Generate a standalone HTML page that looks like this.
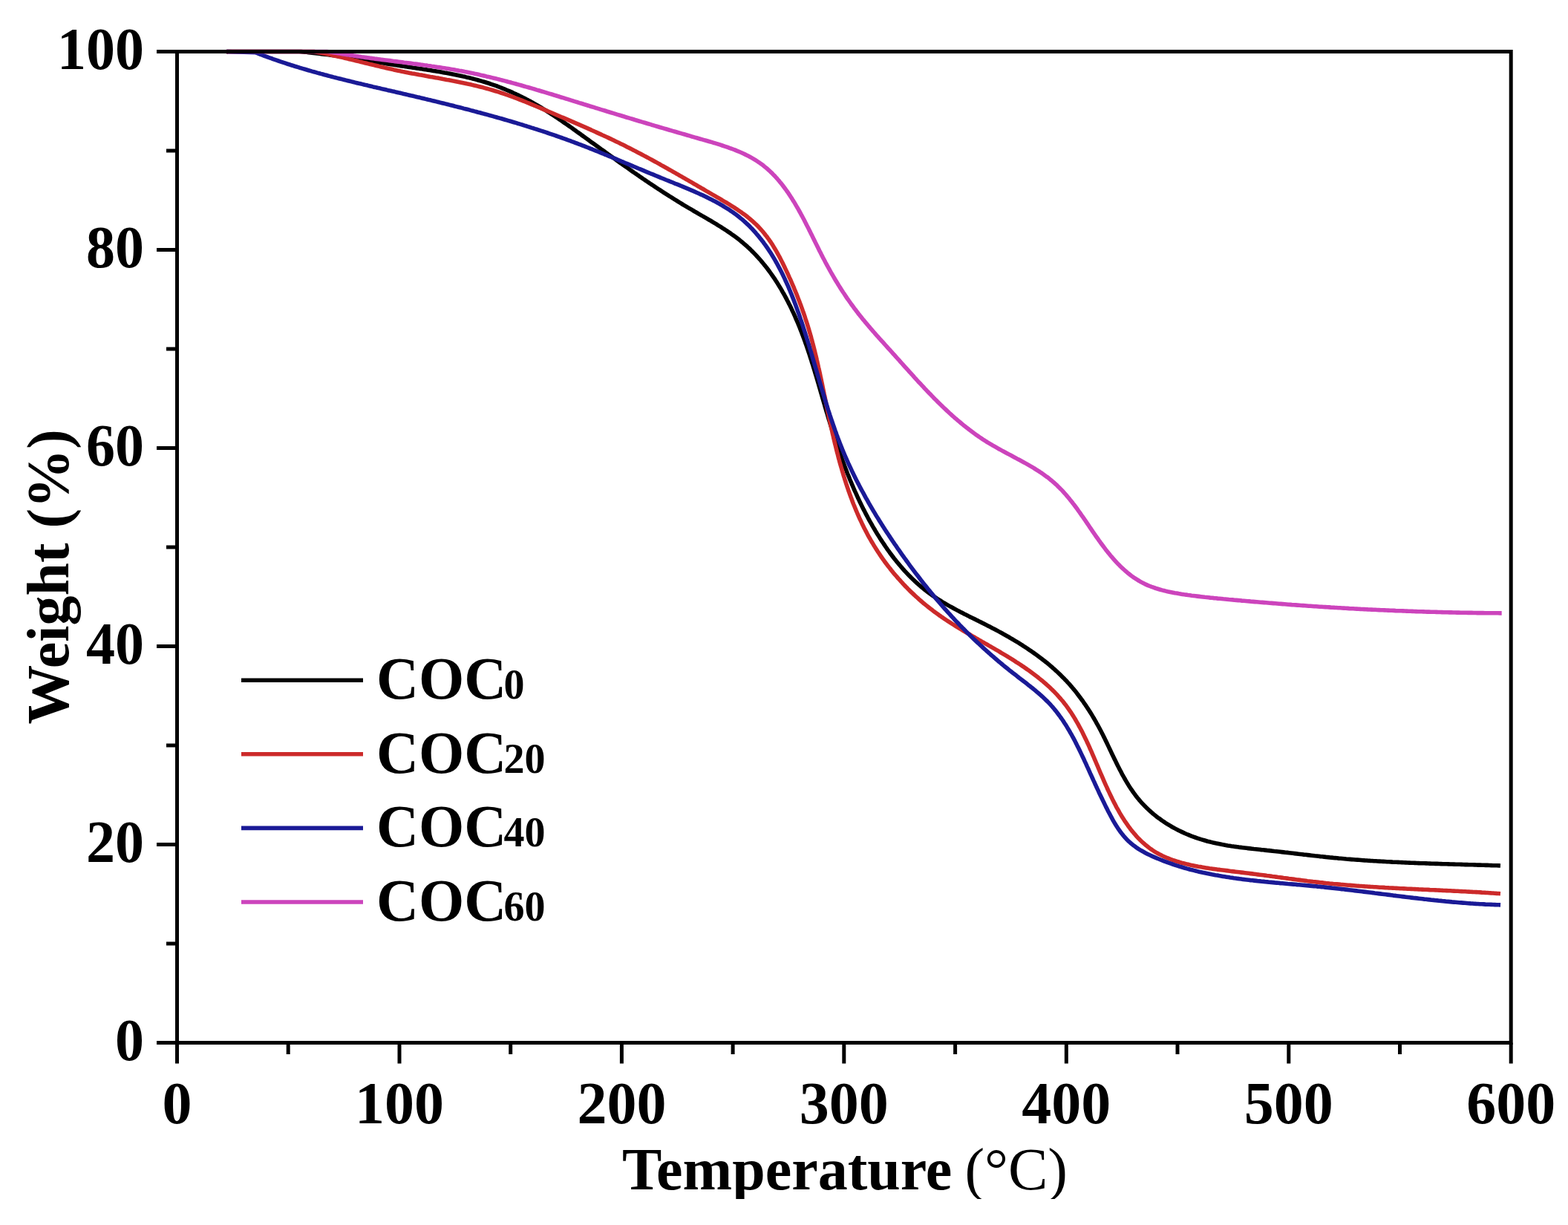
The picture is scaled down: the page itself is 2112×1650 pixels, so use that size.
<!DOCTYPE html>
<html><head><meta charset="utf-8"><title>TGA curves</title>
<style>
html,body{margin:0;padding:0;background:#fff;}
body{width:2112px;height:1650px;overflow:hidden;position:relative;}
#clip{position:absolute;left:0;top:0;width:2112px;height:1615px;overflow:hidden;}
svg{display:block;}
text{font-family:"Liberation Serif","Times New Roman",serif;font-weight:bold;font-size:80px;fill:#000;}
</style></head><body>
<div id="clip">
<svg width="2112" height="1650" viewBox="0 0 2112 1650">
<g fill="none" stroke-linejoin="round" stroke-linecap="butt" stroke-width="5.6">
<path d="M304.9 69.7 L307.5 69.5 L310.1 69.5 L312.6 69.5 L315.2 69.5 L317.7 69.5 L320.3 69.5 L322.8 69.5 L325.3 69.5 L327.9 69.5 L330.4 69.5 L332.9 69.5 L335.5 69.5 L338.0 69.5 L340.5 69.5 L343.0 69.5 L345.6 69.5 L348.1 69.5 L350.6 69.5 L353.1 69.5 L355.6 69.5 L358.1 69.5 L360.6 69.5 L363.1 69.5 L365.6 69.5 L368.1 69.5 L370.6 69.5 L373.1 69.5 L375.6 69.5 L378.1 69.5 L380.6 69.5 L383.1 69.5 L385.6 69.5 L388.1 69.5 L390.6 69.5 L393.1 69.5 L395.5 69.5 L398.0 69.5 L400.5 69.5 L403.0 69.5 L405.5 69.6 L407.9 69.9 L410.4 70.1 L412.9 70.3 L415.4 70.6 L417.8 70.9 L420.3 71.1 L422.8 71.4 L425.3 71.7 L427.7 72.0 L430.2 72.3 L432.7 72.6 L435.1 72.9 L437.6 73.2 L440.1 73.5 L442.5 73.8 L445.0 74.2 L447.5 74.5 L449.9 74.8 L452.4 75.2 L454.9 75.5 L457.3 75.9 L459.8 76.2 L462.3 76.6 L464.7 77.0 L467.2 77.3 L469.7 77.7 L472.1 78.1 L474.6 78.5 L477.1 78.8 L479.5 79.2 L482.0 79.6 L484.5 80.0 L486.9 80.4 L489.4 80.8 L491.9 81.2 L494.3 81.6 L496.8 81.9 L499.3 82.3 L501.7 82.7 L504.2 83.1 L506.7 83.5 L509.2 83.9 L511.6 84.3 L514.1 84.7 L516.6 85.1 L519.1 85.5 L521.5 85.9 L524.0 86.3 L526.5 86.7 L529.0 87.0 L531.5 87.4 L533.9 87.8 L536.4 88.2 L538.9 88.6 L541.4 88.9 L543.9 89.3 L546.4 89.7 L548.9 90.1 L551.4 90.4 L553.9 90.8 L556.4 91.2 L558.8 91.5 L561.3 91.9 L563.8 92.3 L566.3 92.6 L568.8 93.0 L571.3 93.4 L573.8 93.8 L576.3 94.2 L578.8 94.6 L581.3 95.0 L583.7 95.4 L586.2 95.8 L588.7 96.2 L591.2 96.6 L593.7 97.0 L596.1 97.4 L598.6 97.9 L601.1 98.3 L603.5 98.8 L606.0 99.2 L608.5 99.7 L610.9 100.2 L613.4 100.7 L615.8 101.2 L618.3 101.7 L620.7 102.2 L623.2 102.8 L625.6 103.3 L628.0 103.9 L630.5 104.4 L632.9 105.0 L635.3 105.6 L637.7 106.3 L640.1 106.9 L642.5 107.5 L644.9 108.2 L647.3 108.9 L649.7 109.6 L652.1 110.3 L654.5 111.0 L656.8 111.7 L659.2 112.5 L661.5 113.3 L663.9 114.1 L666.2 114.9 L668.6 115.7 L670.9 116.6 L673.2 117.5 L675.5 118.4 L677.8 119.3 L680.1 120.2 L682.4 121.2 L684.7 122.2 L687.0 123.1 L689.3 124.1 L691.5 125.2 L693.8 126.2 L696.0 127.3 L698.3 128.3 L700.5 129.4 L702.7 130.5 L705.0 131.7 L707.2 132.8 L709.4 134.0 L711.6 135.1 L713.8 136.3 L716.0 137.5 L718.1 138.7 L720.3 140.0 L722.5 141.2 L724.7 142.5 L726.8 143.7 L729.0 145.0 L731.1 146.3 L733.2 147.6 L735.4 148.9 L737.5 150.3 L739.6 151.6 L741.7 153.0 L743.8 154.3 L745.9 155.7 L748.0 157.1 L750.1 158.5 L752.2 159.9 L754.3 161.3 L756.3 162.7 L758.4 164.1 L760.5 165.6 L762.5 167.0 L764.6 168.4 L766.7 169.9 L768.7 171.3 L770.8 172.8 L772.8 174.3 L774.9 175.7 L776.9 177.2 L778.9 178.6 L781.0 180.1 L783.0 181.6 L785.1 183.1 L787.1 184.5 L789.1 186.0 L791.2 187.5 L793.2 188.9 L795.2 190.4 L797.2 191.9 L799.3 193.3 L801.3 194.8 L803.3 196.3 L805.4 197.7 L807.4 199.2 L809.4 200.7 L811.4 202.1 L813.5 203.6 L815.5 205.1 L817.5 206.5 L819.5 208.0 L821.6 209.4 L823.6 210.9 L825.6 212.3 L827.7 213.8 L829.7 215.2 L831.7 216.7 L833.7 218.1 L835.8 219.6 L837.8 221.0 L839.8 222.5 L841.9 223.9 L843.9 225.3 L846.0 226.8 L848.0 228.2 L850.0 229.6 L852.1 231.1 L854.1 232.5 L856.2 233.9 L858.2 235.3 L860.3 236.7 L862.3 238.2 L864.4 239.6 L866.4 241.0 L868.5 242.4 L870.6 243.8 L872.6 245.2 L874.7 246.6 L876.8 248.0 L878.9 249.3 L880.9 250.7 L883.0 252.1 L885.1 253.5 L887.2 254.9 L889.3 256.2 L891.4 257.6 L893.5 259.0 L895.6 260.3 L897.7 261.7 L899.8 263.0 L901.9 264.4 L904.1 265.7 L906.2 267.0 L908.3 268.4 L910.4 269.7 L912.6 271.0 L914.7 272.3 L916.9 273.7 L919.0 275.0 L921.2 276.3 L923.4 277.6 L925.5 278.9 L927.7 280.2 L929.9 281.4 L932.1 282.7 L934.2 284.0 L936.4 285.3 L938.6 286.5 L940.8 287.8 L943.0 289.1 L945.2 290.4 L947.4 291.6 L949.6 292.9 L951.8 294.2 L954.0 295.5 L956.2 296.7 L958.4 298.0 L960.5 299.3 L962.7 300.6 L964.9 301.9 L967.0 303.3 L969.2 304.6 L971.3 305.9 L973.4 307.3 L975.5 308.6 L977.6 310.0 L979.7 311.4 L981.8 312.8 L983.9 314.2 L985.9 315.7 L987.9 317.1 L989.9 318.6 L991.9 320.1 L993.9 321.6 L995.9 323.1 L997.8 324.7 L999.7 326.2 L1001.6 327.8 L1003.5 329.5 L1005.4 331.1 L1007.2 332.8 L1009.0 334.4 L1010.8 336.1 L1012.5 337.9 L1014.3 339.6 L1016.0 341.4 L1017.7 343.2 L1019.4 345.0 L1021.1 346.8 L1022.7 348.6 L1024.4 350.5 L1026.0 352.4 L1027.5 354.3 L1029.1 356.2 L1030.7 358.1 L1032.2 360.1 L1033.7 362.0 L1035.2 364.0 L1036.7 366.0 L1038.1 368.0 L1039.6 370.1 L1041.0 372.1 L1042.4 374.2 L1043.8 376.2 L1045.1 378.3 L1046.5 380.4 L1047.8 382.5 L1049.1 384.7 L1050.4 386.8 L1051.7 388.9 L1053.0 391.1 L1054.2 393.3 L1055.5 395.5 L1056.7 397.6 L1057.9 399.8 L1059.1 402.1 L1060.2 404.3 L1061.4 406.5 L1062.5 408.8 L1063.7 411.0 L1064.8 413.3 L1065.9 415.5 L1066.9 417.8 L1068.0 420.1 L1069.1 422.4 L1070.1 424.7 L1071.1 426.9 L1072.1 429.3 L1073.1 431.6 L1074.1 433.9 L1075.1 436.2 L1076.0 438.5 L1077.0 440.8 L1077.9 443.2 L1078.8 445.5 L1079.7 447.8 L1080.6 450.2 L1081.5 452.5 L1082.4 454.9 L1083.2 457.2 L1084.1 459.6 L1084.9 461.9 L1085.8 464.3 L1086.6 466.7 L1087.4 469.0 L1088.2 471.4 L1089.0 473.8 L1089.8 476.2 L1090.6 478.5 L1091.3 480.9 L1092.1 483.3 L1092.9 485.7 L1093.6 488.1 L1094.4 490.5 L1095.1 492.8 L1095.8 495.2 L1096.6 497.6 L1097.3 500.0 L1098.0 502.4 L1098.7 504.8 L1099.5 507.2 L1100.2 509.6 L1100.9 512.0 L1101.6 514.4 L1102.3 516.8 L1103.0 519.2 L1103.7 521.6 L1104.4 524.0 L1105.1 526.5 L1105.8 528.9 L1106.5 531.3 L1107.2 533.7 L1107.9 536.1 L1108.6 538.5 L1109.3 540.9 L1110.0 543.3 L1110.7 545.7 L1111.4 548.1 L1112.1 550.5 L1112.8 552.9 L1113.5 555.3 L1114.3 557.7 L1115.0 560.2 L1115.7 562.6 L1116.4 565.0 L1117.2 567.4 L1117.9 569.8 L1118.6 572.2 L1119.4 574.6 L1120.2 577.0 L1120.9 579.4 L1121.7 581.7 L1122.4 584.1 L1123.2 586.5 L1124.0 588.9 L1124.8 591.3 L1125.6 593.7 L1126.4 596.1 L1127.2 598.5 L1128.0 600.8 L1128.8 603.2 L1129.6 605.6 L1130.4 607.9 L1131.3 610.3 L1132.1 612.7 L1133.0 615.0 L1133.8 617.4 L1134.7 619.8 L1135.5 622.1 L1136.4 624.5 L1137.3 626.8 L1138.2 629.2 L1139.1 631.5 L1140.0 633.8 L1140.9 636.2 L1141.8 638.5 L1142.8 640.8 L1143.7 643.1 L1144.6 645.5 L1145.6 647.8 L1146.6 650.1 L1147.5 652.4 L1148.5 654.7 L1149.5 657.0 L1150.5 659.3 L1151.5 661.6 L1152.6 663.9 L1153.6 666.1 L1154.6 668.4 L1155.7 670.7 L1156.7 672.9 L1157.8 675.2 L1158.9 677.5 L1160.0 679.7 L1161.1 681.9 L1162.2 684.2 L1163.3 686.4 L1164.5 688.6 L1165.6 690.9 L1166.8 693.1 L1168.0 695.3 L1169.1 697.5 L1170.3 699.7 L1171.5 701.9 L1172.8 704.1 L1174.0 706.2 L1175.2 708.4 L1176.5 710.6 L1177.8 712.7 L1179.0 714.9 L1180.3 717.0 L1181.6 719.2 L1183.0 721.3 L1184.3 723.4 L1185.6 725.5 L1187.0 727.6 L1188.4 729.7 L1189.8 731.8 L1191.2 733.9 L1192.6 736.0 L1194.0 738.0 L1195.4 740.1 L1196.9 742.1 L1198.4 744.2 L1199.9 746.2 L1201.4 748.2 L1202.9 750.2 L1204.4 752.2 L1206.0 754.1 L1207.5 756.1 L1209.1 758.0 L1210.7 759.9 L1212.3 761.8 L1213.9 763.7 L1215.6 765.6 L1217.2 767.5 L1218.9 769.3 L1220.6 771.1 L1222.3 773.0 L1224.0 774.7 L1225.8 776.5 L1227.5 778.3 L1229.3 780.0 L1231.1 781.7 L1232.9 783.4 L1234.8 785.1 L1236.6 786.8 L1238.5 788.4 L1240.4 790.0 L1242.3 791.6 L1244.2 793.2 L1246.1 794.7 L1248.1 796.2 L1250.0 797.7 L1252.0 799.2 L1254.1 800.7 L1256.1 802.1 L1258.1 803.5 L1260.2 804.9 L1262.3 806.3 L1264.4 807.6 L1266.5 808.9 L1268.6 810.3 L1270.7 811.6 L1272.9 812.8 L1275.0 814.1 L1277.2 815.4 L1279.4 816.6 L1281.6 817.8 L1283.8 819.0 L1286.0 820.2 L1288.2 821.4 L1290.4 822.6 L1292.6 823.7 L1294.8 824.9 L1297.1 826.0 L1299.3 827.2 L1301.6 828.3 L1303.8 829.4 L1306.0 830.6 L1308.3 831.7 L1310.5 832.8 L1312.8 833.9 L1315.0 835.0 L1317.3 836.1 L1319.5 837.3 L1321.8 838.4 L1324.0 839.5 L1326.3 840.6 L1328.5 841.8 L1330.7 842.9 L1333.0 844.1 L1335.2 845.2 L1337.5 846.4 L1339.7 847.5 L1341.9 848.7 L1344.1 849.9 L1346.3 851.1 L1348.5 852.3 L1350.7 853.5 L1352.9 854.8 L1355.1 856.0 L1357.3 857.2 L1359.5 858.5 L1361.7 859.8 L1363.8 861.0 L1366.0 862.3 L1368.1 863.6 L1370.3 864.9 L1372.4 866.2 L1374.6 867.6 L1376.7 868.9 L1378.8 870.3 L1380.9 871.6 L1383.0 873.0 L1385.0 874.4 L1387.1 875.8 L1389.2 877.2 L1391.2 878.6 L1393.3 880.1 L1395.3 881.5 L1397.3 883.0 L1399.3 884.5 L1401.3 886.0 L1403.3 887.5 L1405.2 889.0 L1407.2 890.5 L1409.1 892.1 L1411.1 893.6 L1413.0 895.2 L1414.9 896.8 L1416.7 898.4 L1418.6 900.1 L1420.5 901.7 L1422.3 903.4 L1424.1 905.0 L1425.9 906.7 L1427.7 908.4 L1429.5 910.2 L1431.2 911.9 L1433.0 913.7 L1434.7 915.5 L1436.4 917.2 L1438.1 919.1 L1439.8 920.9 L1441.4 922.7 L1443.0 924.6 L1444.6 926.5 L1446.2 928.4 L1447.8 930.3 L1449.4 932.3 L1450.9 934.2 L1452.4 936.2 L1453.9 938.2 L1455.4 940.2 L1456.9 942.2 L1458.4 944.2 L1459.8 946.3 L1461.2 948.3 L1462.6 950.4 L1464.0 952.5 L1465.4 954.6 L1466.8 956.7 L1468.1 958.8 L1469.5 961.0 L1470.8 963.1 L1472.1 965.3 L1473.4 967.5 L1474.6 969.6 L1475.9 971.8 L1477.1 974.1 L1478.4 976.3 L1479.6 978.5 L1480.8 980.8 L1482.0 983.0 L1483.2 985.3 L1484.3 987.5 L1485.5 989.8 L1486.6 992.1 L1487.8 994.4 L1488.9 996.7 L1490.0 999.0 L1491.1 1001.3 L1492.2 1003.6 L1493.3 1005.9 L1494.4 1008.2 L1495.5 1010.5 L1496.6 1012.9 L1497.7 1015.2 L1498.8 1017.5 L1499.9 1019.8 L1501.0 1022.1 L1502.2 1024.4 L1503.3 1026.7 L1504.4 1028.9 L1505.5 1031.2 L1506.7 1033.5 L1507.8 1035.7 L1509.0 1038.0 L1510.2 1040.2 L1511.3 1042.4 L1512.5 1044.7 L1513.8 1046.9 L1515.0 1049.0 L1516.2 1051.2 L1517.5 1053.4 L1518.8 1055.5 L1520.1 1057.6 L1521.4 1059.7 L1522.8 1061.8 L1524.2 1063.8 L1525.6 1065.9 L1527.0 1067.9 L1528.5 1069.9 L1529.9 1071.8 L1531.4 1073.8 L1533.0 1075.7 L1534.6 1077.6 L1536.2 1079.5 L1537.8 1081.3 L1539.5 1083.1 L1541.2 1084.9 L1542.9 1086.6 L1544.6 1088.4 L1546.4 1090.0 L1548.2 1091.7 L1550.1 1093.4 L1551.9 1095.0 L1553.8 1096.6 L1555.7 1098.1 L1557.6 1099.7 L1559.6 1101.2 L1561.6 1102.6 L1563.6 1104.1 L1565.6 1105.5 L1567.7 1106.9 L1569.7 1108.3 L1571.8 1109.6 L1573.9 1110.9 L1576.1 1112.2 L1578.2 1113.5 L1580.4 1114.7 L1582.6 1115.9 L1584.8 1117.1 L1587.0 1118.2 L1589.2 1119.3 L1591.5 1120.4 L1593.7 1121.4 L1596.0 1122.5 L1598.3 1123.5 L1600.6 1124.4 L1602.9 1125.4 L1605.3 1126.3 L1607.6 1127.2 L1610.0 1128.0 L1612.3 1128.8 L1614.7 1129.6 L1617.1 1130.4 L1619.5 1131.1 L1621.9 1131.8 L1624.3 1132.5 L1626.7 1133.2 L1629.1 1133.8 L1631.6 1134.4 L1634.0 1135.0 L1636.5 1135.5 L1638.9 1136.1 L1641.4 1136.6 L1643.8 1137.1 L1646.3 1137.6 L1648.8 1138.0 L1651.3 1138.4 L1653.8 1138.9 L1656.3 1139.3 L1658.8 1139.7 L1661.3 1140.0 L1663.8 1140.4 L1666.3 1140.7 L1668.8 1141.1 L1671.3 1141.4 L1673.8 1141.7 L1676.3 1142.0 L1678.8 1142.3 L1681.3 1142.6 L1683.9 1142.9 L1686.4 1143.2 L1688.9 1143.5 L1691.4 1143.7 L1693.9 1144.0 L1696.5 1144.3 L1699.0 1144.6 L1701.5 1144.8 L1704.0 1145.1 L1706.5 1145.4 L1709.0 1145.6 L1711.5 1145.9 L1714.0 1146.2 L1716.5 1146.5 L1719.0 1146.7 L1721.5 1147.0 L1724.0 1147.3 L1726.5 1147.6 L1729.0 1147.9 L1731.5 1148.2 L1734.0 1148.4 L1736.4 1148.7 L1738.9 1149.0 L1741.4 1149.3 L1743.9 1149.6 L1746.4 1149.9 L1748.8 1150.2 L1751.3 1150.5 L1753.8 1150.8 L1756.3 1151.1 L1758.8 1151.3 L1761.2 1151.6 L1763.7 1151.9 L1766.2 1152.2 L1768.6 1152.5 L1771.1 1152.8 L1773.6 1153.0 L1776.1 1153.3 L1778.5 1153.6 L1781.0 1153.8 L1783.5 1154.1 L1786.0 1154.4 L1788.4 1154.6 L1790.9 1154.9 L1793.4 1155.1 L1795.9 1155.4 L1798.4 1155.6 L1800.8 1155.8 L1803.3 1156.1 L1805.8 1156.3 L1808.3 1156.5 L1810.8 1156.7 L1813.3 1157.0 L1815.8 1157.2 L1818.2 1157.4 L1820.7 1157.6 L1823.2 1157.8 L1825.7 1158.0 L1828.2 1158.1 L1830.7 1158.3 L1833.2 1158.5 L1835.7 1158.7 L1838.2 1158.9 L1840.7 1159.0 L1843.2 1159.2 L1845.7 1159.4 L1848.2 1159.5 L1850.7 1159.7 L1853.2 1159.8 L1855.7 1160.0 L1858.2 1160.1 L1860.7 1160.3 L1863.2 1160.4 L1865.7 1160.5 L1868.2 1160.7 L1870.7 1160.8 L1873.2 1160.9 L1875.7 1161.1 L1878.2 1161.2 L1880.7 1161.3 L1883.2 1161.4 L1885.8 1161.5 L1888.3 1161.6 L1890.8 1161.8 L1893.3 1161.9 L1895.8 1162.0 L1898.3 1162.1 L1900.8 1162.2 L1903.3 1162.3 L1905.8 1162.4 L1908.3 1162.5 L1910.8 1162.6 L1913.4 1162.7 L1915.9 1162.8 L1918.4 1162.8 L1920.9 1162.9 L1923.4 1163.0 L1925.9 1163.1 L1928.4 1163.2 L1930.9 1163.3 L1933.4 1163.4 L1935.9 1163.4 L1938.5 1163.5 L1941.0 1163.6 L1943.5 1163.7 L1946.0 1163.7 L1948.5 1163.8 L1951.0 1163.9 L1953.5 1164.0 L1956.0 1164.0 L1958.5 1164.1 L1961.0 1164.2 L1963.5 1164.3 L1966.0 1164.3 L1968.5 1164.4 L1971.0 1164.5 L1973.5 1164.6 L1976.1 1164.6 L1978.6 1164.7 L1981.1 1164.8 L1983.6 1164.8 L1986.1 1164.9 L1988.6 1165.0 L1991.1 1165.1 L1993.6 1165.1 L1996.1 1165.2 L1998.6 1165.3 L2001.0 1165.4 L2003.5 1165.4 L2006.0 1165.5 L2008.5 1165.6 L2011.0 1165.7 L2013.5 1165.7 L2016.0 1165.8 L2018.5 1165.9 L2021.0 1166.0" stroke="#000000"/>
<path d="M305.0 69.6 L307.6 69.5 L310.2 69.5 L312.8 69.5 L315.4 69.5 L317.9 69.5 L320.5 69.5 L323.1 69.5 L325.7 69.5 L328.2 69.5 L330.8 69.5 L333.4 69.5 L335.9 69.5 L338.5 69.5 L341.0 69.5 L343.6 69.5 L346.1 69.5 L348.6 69.5 L351.2 69.5 L353.7 69.5 L356.2 69.5 L358.7 69.5 L361.2 69.5 L363.7 69.5 L366.2 69.5 L368.8 69.5 L371.3 69.5 L373.7 69.5 L376.2 69.5 L378.7 69.5 L381.2 69.5 L383.7 69.5 L386.2 69.5 L388.7 69.5 L391.1 69.5 L393.6 69.5 L396.1 69.5 L398.6 69.5 L401.0 69.5 L403.5 69.5 L405.9 69.5 L408.4 69.5 L410.9 69.5 L413.3 69.5 L415.8 69.5 L418.2 69.5 L420.7 69.5 L423.1 69.5 L425.6 69.9 L428.0 70.4 L430.5 70.9 L432.9 71.3 L435.3 71.8 L437.8 72.3 L440.2 72.8 L442.7 73.3 L445.1 73.8 L447.5 74.4 L450.0 74.9 L452.4 75.4 L454.8 76.0 L457.3 76.5 L459.7 77.1 L462.1 77.6 L464.5 78.2 L467.0 78.8 L469.4 79.4 L471.8 79.9 L474.3 80.5 L476.7 81.1 L479.1 81.7 L481.6 82.3 L484.0 82.9 L486.4 83.5 L488.9 84.1 L491.3 84.7 L493.7 85.3 L496.1 85.9 L498.6 86.5 L501.0 87.0 L503.5 87.6 L505.9 88.2 L508.3 88.8 L510.8 89.4 L513.2 90.0 L515.6 90.5 L518.1 91.1 L520.5 91.7 L523.0 92.2 L525.4 92.8 L527.9 93.3 L530.3 93.9 L532.8 94.4 L535.2 94.9 L537.7 95.4 L540.1 96.0 L542.6 96.5 L545.0 96.9 L547.5 97.4 L550.0 97.9 L552.4 98.4 L554.9 98.9 L557.4 99.3 L559.8 99.8 L562.3 100.2 L564.8 100.7 L567.2 101.1 L569.7 101.6 L572.2 102.0 L574.7 102.5 L577.1 102.9 L579.6 103.4 L582.1 103.8 L584.5 104.2 L587.0 104.7 L589.5 105.1 L591.9 105.6 L594.4 106.0 L596.9 106.5 L599.4 106.9 L601.8 107.4 L604.3 107.8 L606.7 108.3 L609.2 108.8 L611.7 109.2 L614.1 109.7 L616.6 110.2 L619.0 110.7 L621.5 111.2 L623.9 111.7 L626.4 112.2 L628.8 112.8 L631.2 113.3 L633.7 113.8 L636.1 114.4 L638.6 115.0 L641.0 115.5 L643.4 116.1 L645.8 116.7 L648.2 117.3 L650.7 117.9 L653.1 118.6 L655.5 119.2 L657.9 119.9 L660.3 120.6 L662.7 121.3 L665.1 122.0 L667.4 122.7 L669.8 123.4 L672.2 124.2 L674.6 125.0 L676.9 125.7 L679.3 126.5 L681.6 127.4 L684.0 128.2 L686.4 129.0 L688.7 129.9 L691.0 130.7 L693.4 131.6 L695.7 132.5 L698.1 133.4 L700.4 134.3 L702.7 135.2 L705.0 136.1 L707.4 137.0 L709.7 138.0 L712.0 138.9 L714.3 139.8 L716.7 140.8 L719.0 141.8 L721.3 142.7 L723.6 143.7 L725.9 144.7 L728.2 145.6 L730.5 146.6 L732.8 147.6 L735.1 148.6 L737.4 149.6 L739.7 150.5 L742.1 151.5 L744.4 152.5 L746.7 153.5 L749.0 154.5 L751.3 155.5 L753.6 156.5 L755.9 157.5 L758.2 158.4 L760.5 159.4 L762.8 160.4 L765.1 161.4 L767.4 162.4 L769.7 163.4 L772.0 164.4 L774.3 165.4 L776.6 166.4 L778.9 167.4 L781.2 168.4 L783.5 169.4 L785.8 170.4 L788.1 171.4 L790.4 172.4 L792.6 173.4 L794.9 174.4 L797.2 175.5 L799.5 176.5 L801.8 177.5 L804.1 178.6 L806.3 179.6 L808.6 180.6 L810.9 181.7 L813.2 182.7 L815.4 183.8 L817.7 184.8 L820.0 185.9 L822.2 186.9 L824.5 188.0 L826.7 189.1 L829.0 190.2 L831.2 191.3 L833.5 192.3 L835.7 193.4 L838.0 194.5 L840.2 195.6 L842.5 196.8 L844.7 197.9 L846.9 199.0 L849.2 200.1 L851.4 201.3 L853.6 202.4 L855.8 203.6 L858.0 204.7 L860.3 205.9 L862.5 207.0 L864.7 208.2 L866.9 209.4 L869.1 210.6 L871.3 211.7 L873.5 212.9 L875.7 214.1 L877.9 215.3 L880.1 216.5 L882.3 217.7 L884.5 218.9 L886.7 220.1 L888.9 221.3 L891.0 222.6 L893.2 223.8 L895.4 225.0 L897.6 226.2 L899.8 227.5 L902.0 228.7 L904.1 229.9 L906.3 231.2 L908.5 232.4 L910.7 233.7 L912.9 234.9 L915.0 236.2 L917.2 237.4 L919.4 238.7 L921.6 239.9 L923.7 241.2 L925.9 242.4 L928.1 243.7 L930.3 244.9 L932.4 246.2 L934.6 247.5 L936.8 248.7 L939.0 250.0 L941.1 251.3 L943.3 252.5 L945.5 253.8 L947.7 255.0 L949.8 256.3 L952.0 257.6 L954.2 258.8 L956.4 260.1 L958.5 261.4 L960.7 262.6 L962.9 263.9 L965.1 265.2 L967.3 266.4 L969.5 267.7 L971.6 269.0 L973.8 270.3 L976.0 271.6 L978.1 272.8 L980.3 274.1 L982.4 275.4 L984.6 276.8 L986.7 278.1 L988.8 279.4 L990.9 280.8 L993.0 282.2 L995.0 283.6 L997.1 285.0 L999.1 286.4 L1001.1 287.9 L1003.1 289.3 L1005.1 290.8 L1007.0 292.3 L1008.9 293.9 L1010.8 295.5 L1012.7 297.1 L1014.5 298.7 L1016.3 300.4 L1018.1 302.0 L1019.9 303.8 L1021.6 305.5 L1023.3 307.3 L1024.9 309.1 L1026.6 311.0 L1028.1 312.8 L1029.7 314.7 L1031.2 316.7 L1032.8 318.6 L1034.2 320.6 L1035.7 322.6 L1037.1 324.7 L1038.5 326.7 L1039.9 328.8 L1041.2 330.9 L1042.5 333.1 L1043.8 335.2 L1045.1 337.4 L1046.4 339.6 L1047.6 341.8 L1048.8 344.0 L1050.0 346.2 L1051.2 348.5 L1052.3 350.7 L1053.5 353.0 L1054.6 355.3 L1055.7 357.5 L1056.8 359.8 L1057.9 362.1 L1059.0 364.4 L1060.1 366.7 L1061.2 369.0 L1062.2 371.3 L1063.2 373.6 L1064.3 375.9 L1065.3 378.2 L1066.3 380.5 L1067.3 382.8 L1068.3 385.1 L1069.3 387.4 L1070.2 389.8 L1071.2 392.1 L1072.1 394.4 L1073.1 396.7 L1074.0 399.1 L1074.9 401.4 L1075.8 403.7 L1076.7 406.1 L1077.6 408.4 L1078.5 410.7 L1079.3 413.1 L1080.2 415.4 L1081.0 417.8 L1081.8 420.1 L1082.7 422.5 L1083.5 424.9 L1084.3 427.2 L1085.0 429.6 L1085.8 432.0 L1086.6 434.3 L1087.3 436.7 L1088.1 439.1 L1088.8 441.5 L1089.5 443.9 L1090.2 446.2 L1090.9 448.6 L1091.6 451.0 L1092.3 453.4 L1092.9 455.8 L1093.6 458.2 L1094.2 460.6 L1094.8 463.1 L1095.5 465.5 L1096.1 467.9 L1096.7 470.3 L1097.3 472.7 L1097.9 475.1 L1098.5 477.6 L1099.1 480.0 L1099.7 482.4 L1100.2 484.9 L1100.8 487.3 L1101.3 489.7 L1101.9 492.2 L1102.4 494.6 L1103.0 497.0 L1103.5 499.5 L1104.1 501.9 L1104.6 504.4 L1105.1 506.8 L1105.6 509.3 L1106.2 511.7 L1106.7 514.2 L1107.2 516.6 L1107.7 519.1 L1108.2 521.5 L1108.7 524.0 L1109.2 526.4 L1109.7 528.9 L1110.2 531.4 L1110.8 533.8 L1111.3 536.3 L1111.8 538.7 L1112.3 541.2 L1112.8 543.7 L1113.3 546.1 L1113.8 548.6 L1114.3 551.0 L1114.8 553.5 L1115.3 556.0 L1115.9 558.4 L1116.4 560.9 L1116.9 563.3 L1117.4 565.8 L1118.0 568.3 L1118.5 570.7 L1119.0 573.2 L1119.6 575.6 L1120.1 578.1 L1120.7 580.6 L1121.2 583.0 L1121.8 585.5 L1122.4 587.9 L1122.9 590.4 L1123.5 592.8 L1124.1 595.3 L1124.7 597.7 L1125.3 600.1 L1125.9 602.6 L1126.5 605.0 L1127.1 607.5 L1127.7 609.9 L1128.4 612.3 L1129.0 614.8 L1129.6 617.2 L1130.3 619.6 L1130.9 622.0 L1131.6 624.5 L1132.3 626.9 L1133.0 629.3 L1133.7 631.7 L1134.4 634.1 L1135.1 636.5 L1135.8 638.9 L1136.5 641.3 L1137.3 643.7 L1138.0 646.1 L1138.8 648.4 L1139.5 650.8 L1140.3 653.2 L1141.1 655.6 L1141.9 657.9 L1142.7 660.3 L1143.5 662.6 L1144.4 665.0 L1145.2 667.3 L1146.1 669.7 L1147.0 672.0 L1147.8 674.3 L1148.7 676.7 L1149.6 679.0 L1150.6 681.3 L1151.5 683.6 L1152.5 685.9 L1153.4 688.2 L1154.4 690.5 L1155.4 692.8 L1156.4 695.0 L1157.4 697.3 L1158.4 699.6 L1159.5 701.8 L1160.6 704.1 L1161.6 706.3 L1162.7 708.5 L1163.8 710.8 L1165.0 713.0 L1166.1 715.2 L1167.3 717.4 L1168.4 719.6 L1169.6 721.8 L1170.8 724.0 L1172.1 726.2 L1173.3 728.3 L1174.6 730.5 L1175.9 732.6 L1177.2 734.8 L1178.5 736.9 L1179.8 739.0 L1181.2 741.1 L1182.5 743.2 L1183.9 745.3 L1185.3 747.4 L1186.7 749.5 L1188.2 751.6 L1189.6 753.6 L1191.1 755.7 L1192.6 757.7 L1194.1 759.7 L1195.6 761.8 L1197.2 763.8 L1198.8 765.7 L1200.3 767.7 L1201.9 769.7 L1203.5 771.7 L1205.1 773.6 L1206.8 775.5 L1208.4 777.4 L1210.1 779.4 L1211.8 781.2 L1213.5 783.1 L1215.2 785.0 L1216.9 786.8 L1218.7 788.7 L1220.4 790.5 L1222.2 792.3 L1223.9 794.1 L1225.7 795.9 L1227.5 797.6 L1229.4 799.4 L1231.2 801.1 L1233.0 802.8 L1234.9 804.5 L1236.8 806.2 L1238.6 807.9 L1240.5 809.5 L1242.4 811.1 L1244.3 812.8 L1246.3 814.4 L1248.2 815.9 L1250.2 817.5 L1252.1 819.0 L1254.1 820.6 L1256.1 822.1 L1258.0 823.6 L1260.0 825.0 L1262.1 826.5 L1264.1 827.9 L1266.1 829.4 L1268.1 830.8 L1270.2 832.2 L1272.2 833.6 L1274.3 835.0 L1276.3 836.3 L1278.4 837.7 L1280.5 839.0 L1282.6 840.4 L1284.7 841.7 L1286.8 843.0 L1288.9 844.3 L1291.0 845.6 L1293.1 846.9 L1295.2 848.2 L1297.4 849.5 L1299.5 850.7 L1301.7 852.0 L1303.8 853.3 L1306.0 854.5 L1308.1 855.8 L1310.3 857.1 L1312.4 858.3 L1314.6 859.6 L1316.8 860.8 L1318.9 862.1 L1321.1 863.3 L1323.3 864.6 L1325.5 865.8 L1327.7 867.1 L1329.8 868.3 L1332.0 869.6 L1334.2 870.8 L1336.4 872.1 L1338.6 873.4 L1340.8 874.7 L1343.0 875.9 L1345.2 877.2 L1347.3 878.5 L1349.5 879.8 L1351.7 881.1 L1353.9 882.4 L1356.0 883.7 L1358.2 885.0 L1360.4 886.4 L1362.5 887.7 L1364.7 889.0 L1366.8 890.4 L1368.9 891.8 L1371.1 893.1 L1373.2 894.5 L1375.3 895.9 L1377.4 897.3 L1379.5 898.7 L1381.5 900.1 L1383.6 901.6 L1385.7 903.0 L1387.7 904.5 L1389.7 906.0 L1391.7 907.5 L1393.7 909.0 L1395.7 910.5 L1397.7 912.0 L1399.6 913.6 L1401.5 915.1 L1403.5 916.7 L1405.4 918.3 L1407.2 919.9 L1409.1 921.5 L1410.9 923.2 L1412.8 924.8 L1414.6 926.5 L1416.3 928.2 L1418.1 929.9 L1419.8 931.6 L1421.5 933.4 L1423.2 935.2 L1424.9 937.0 L1426.5 938.8 L1428.1 940.6 L1429.7 942.5 L1431.3 944.3 L1432.8 946.2 L1434.3 948.2 L1435.8 950.1 L1437.3 952.1 L1438.7 954.1 L1440.1 956.1 L1441.5 958.1 L1442.9 960.1 L1444.2 962.2 L1445.5 964.3 L1446.8 966.4 L1448.1 968.5 L1449.3 970.6 L1450.6 972.8 L1451.8 974.9 L1453.0 977.1 L1454.2 979.3 L1455.4 981.5 L1456.5 983.7 L1457.7 985.9 L1458.8 988.2 L1459.9 990.4 L1461.0 992.7 L1462.1 995.0 L1463.2 997.2 L1464.2 999.5 L1465.3 1001.8 L1466.4 1004.1 L1467.4 1006.4 L1468.4 1008.8 L1469.5 1011.1 L1470.5 1013.4 L1471.5 1015.8 L1472.5 1018.1 L1473.5 1020.4 L1474.5 1022.8 L1475.5 1025.1 L1476.5 1027.5 L1477.5 1029.9 L1478.5 1032.2 L1479.5 1034.6 L1480.5 1036.9 L1481.5 1039.3 L1482.5 1041.7 L1483.6 1044.0 L1484.6 1046.4 L1485.6 1048.7 L1486.6 1051.1 L1487.6 1053.4 L1488.7 1055.8 L1489.7 1058.1 L1490.8 1060.4 L1491.8 1062.8 L1492.9 1065.1 L1494.0 1067.4 L1495.1 1069.7 L1496.2 1072.0 L1497.3 1074.3 L1498.4 1076.6 L1499.5 1078.8 L1500.7 1081.1 L1501.9 1083.3 L1503.0 1085.6 L1504.2 1087.8 L1505.5 1090.0 L1506.7 1092.2 L1507.9 1094.4 L1509.2 1096.6 L1510.5 1098.7 L1511.8 1100.9 L1513.2 1103.0 L1514.5 1105.1 L1515.9 1107.2 L1517.3 1109.2 L1518.7 1111.2 L1520.2 1113.3 L1521.6 1115.2 L1523.1 1117.2 L1524.6 1119.1 L1526.2 1121.0 L1527.8 1122.9 L1529.4 1124.7 L1531.0 1126.6 L1532.6 1128.3 L1534.3 1130.1 L1536.0 1131.8 L1537.8 1133.5 L1539.6 1135.1 L1541.4 1136.7 L1543.2 1138.3 L1545.1 1139.8 L1547.0 1141.3 L1548.9 1142.7 L1550.9 1144.1 L1552.9 1145.5 L1554.9 1146.8 L1557.0 1148.1 L1559.1 1149.3 L1561.3 1150.5 L1563.5 1151.6 L1565.7 1152.7 L1567.9 1153.7 L1570.2 1154.7 L1572.5 1155.7 L1574.8 1156.6 L1577.1 1157.5 L1579.5 1158.4 L1581.9 1159.2 L1584.3 1160.0 L1586.7 1160.7 L1589.2 1161.5 L1591.6 1162.2 L1594.1 1162.8 L1596.6 1163.4 L1599.1 1164.1 L1601.6 1164.6 L1604.1 1165.2 L1606.6 1165.7 L1609.1 1166.2 L1611.6 1166.7 L1614.1 1167.2 L1616.6 1167.6 L1619.1 1168.1 L1621.7 1168.5 L1624.2 1168.9 L1626.7 1169.3 L1629.3 1169.7 L1631.8 1170.0 L1634.3 1170.4 L1636.8 1170.7 L1639.4 1171.1 L1641.9 1171.4 L1644.4 1171.7 L1646.9 1172.0 L1649.4 1172.3 L1651.9 1172.6 L1654.4 1172.9 L1656.9 1173.3 L1659.4 1173.6 L1661.9 1173.9 L1664.4 1174.2 L1666.9 1174.5 L1669.4 1174.8 L1671.9 1175.1 L1674.4 1175.4 L1676.8 1175.7 L1679.3 1176.0 L1681.8 1176.3 L1684.2 1176.6 L1686.7 1176.9 L1689.2 1177.2 L1691.7 1177.5 L1694.1 1177.9 L1696.6 1178.2 L1699.1 1178.5 L1701.5 1178.8 L1704.0 1179.1 L1706.5 1179.5 L1709.0 1179.8 L1711.4 1180.1 L1713.9 1180.5 L1716.4 1180.8 L1718.8 1181.1 L1721.3 1181.5 L1723.8 1181.8 L1726.3 1182.1 L1728.8 1182.5 L1731.2 1182.8 L1733.7 1183.1 L1736.2 1183.5 L1738.7 1183.8 L1741.1 1184.1 L1743.6 1184.4 L1746.1 1184.8 L1748.6 1185.1 L1751.1 1185.4 L1753.6 1185.7 L1756.0 1186.0 L1758.5 1186.3 L1761.0 1186.7 L1763.5 1187.0 L1766.0 1187.3 L1768.5 1187.6 L1771.0 1187.8 L1773.4 1188.1 L1775.9 1188.4 L1778.4 1188.7 L1780.9 1188.9 L1783.4 1189.2 L1785.9 1189.5 L1788.4 1189.7 L1790.9 1190.0 L1793.4 1190.2 L1795.9 1190.5 L1798.4 1190.7 L1800.8 1190.9 L1803.3 1191.1 L1805.8 1191.4 L1808.3 1191.6 L1810.8 1191.8 L1813.3 1192.0 L1815.8 1192.2 L1818.3 1192.4 L1820.8 1192.6 L1823.3 1192.8 L1825.8 1193.0 L1828.3 1193.2 L1830.8 1193.4 L1833.3 1193.5 L1835.8 1193.7 L1838.3 1193.9 L1840.8 1194.0 L1843.3 1194.2 L1845.8 1194.4 L1848.3 1194.5 L1850.8 1194.7 L1853.3 1194.8 L1855.8 1195.0 L1858.3 1195.2 L1860.8 1195.3 L1863.3 1195.4 L1865.8 1195.6 L1868.3 1195.7 L1870.8 1195.9 L1873.3 1196.0 L1875.9 1196.1 L1878.4 1196.3 L1880.9 1196.4 L1883.4 1196.5 L1885.9 1196.7 L1888.4 1196.8 L1890.9 1196.9 L1893.4 1197.0 L1895.9 1197.2 L1898.4 1197.3 L1900.9 1197.4 L1903.4 1197.5 L1905.9 1197.6 L1908.4 1197.7 L1910.9 1197.9 L1913.4 1198.0 L1915.9 1198.1 L1918.4 1198.2 L1920.9 1198.3 L1923.5 1198.4 L1926.0 1198.6 L1928.5 1198.7 L1931.0 1198.8 L1933.5 1198.9 L1936.0 1199.0 L1938.5 1199.1 L1941.0 1199.2 L1943.5 1199.4 L1946.0 1199.5 L1948.5 1199.6 L1951.0 1199.7 L1953.5 1199.8 L1956.0 1200.0 L1958.5 1200.1 L1961.0 1200.2 L1963.5 1200.3 L1966.0 1200.5 L1968.5 1200.6 L1971.0 1200.7 L1973.5 1200.8 L1976.0 1201.0 L1978.5 1201.1 L1981.0 1201.2 L1983.5 1201.4 L1986.0 1201.5 L1988.5 1201.6 L1991.0 1201.8 L1993.5 1201.9 L1996.0 1202.1 L1998.5 1202.2 L2001.0 1202.4 L2003.5 1202.5 L2006.0 1202.7 L2008.5 1202.9 L2011.0 1203.0 L2013.5 1203.2 L2016.0 1203.4 L2018.5 1203.5 L2021.0 1203.7" stroke="#cc2a2a"/>
<path d="M305.0 69.5 L344.4 70.8 L346.8 71.7 L349.1 72.7 L351.4 73.5 L353.8 74.4 L356.1 75.3 L358.5 76.2 L360.8 77.0 L363.2 77.9 L365.6 78.7 L367.9 79.6 L370.3 80.4 L372.6 81.2 L375.0 82.0 L377.4 82.8 L379.7 83.6 L382.1 84.4 L384.5 85.2 L386.9 86.0 L389.2 86.7 L391.6 87.5 L394.0 88.2 L396.4 89.0 L398.8 89.7 L401.1 90.4 L403.5 91.2 L405.9 91.9 L408.3 92.6 L410.7 93.3 L413.1 94.0 L415.5 94.7 L417.9 95.4 L420.3 96.1 L422.7 96.7 L425.1 97.4 L427.5 98.1 L429.9 98.7 L432.3 99.4 L434.7 100.0 L437.1 100.7 L439.5 101.3 L441.9 102.0 L444.3 102.6 L446.7 103.2 L449.1 103.9 L451.6 104.5 L454.0 105.1 L456.4 105.7 L458.8 106.3 L461.2 106.9 L463.6 107.5 L466.1 108.1 L468.5 108.7 L470.9 109.3 L473.3 109.9 L475.8 110.5 L478.2 111.1 L480.6 111.7 L483.0 112.3 L485.5 112.8 L487.9 113.4 L490.3 114.0 L492.8 114.6 L495.2 115.1 L497.6 115.7 L500.1 116.3 L502.5 116.9 L504.9 117.4 L507.4 118.0 L509.8 118.6 L512.2 119.1 L514.7 119.7 L517.1 120.2 L519.5 120.8 L522.0 121.4 L524.4 121.9 L526.9 122.5 L529.3 123.1 L531.7 123.6 L534.2 124.2 L536.6 124.8 L539.1 125.3 L541.5 125.9 L543.9 126.5 L546.4 127.0 L548.8 127.6 L551.3 128.2 L553.7 128.8 L556.2 129.3 L558.6 129.9 L561.0 130.5 L563.5 131.1 L565.9 131.6 L568.4 132.2 L570.8 132.8 L573.3 133.4 L575.7 134.0 L578.1 134.6 L580.6 135.1 L583.0 135.7 L585.5 136.3 L587.9 136.9 L590.4 137.5 L592.8 138.1 L595.2 138.7 L597.7 139.3 L600.1 139.9 L602.6 140.5 L605.0 141.1 L607.4 141.7 L609.9 142.3 L612.3 143.0 L614.8 143.6 L617.2 144.2 L619.6 144.8 L622.1 145.4 L624.5 146.1 L626.9 146.7 L629.4 147.3 L631.8 147.9 L634.2 148.6 L636.7 149.2 L639.1 149.9 L641.5 150.5 L643.9 151.2 L646.4 151.8 L648.8 152.5 L651.2 153.1 L653.6 153.8 L656.1 154.4 L658.5 155.1 L660.9 155.8 L663.3 156.4 L665.7 157.1 L668.1 157.8 L670.6 158.5 L673.0 159.1 L675.4 159.8 L677.8 160.5 L680.2 161.2 L682.6 161.9 L685.0 162.6 L687.4 163.3 L689.8 164.0 L692.2 164.7 L694.6 165.4 L697.0 166.2 L699.4 166.9 L701.8 167.6 L704.2 168.3 L706.6 169.1 L709.0 169.8 L711.4 170.6 L713.7 171.3 L716.1 172.1 L718.5 172.8 L720.9 173.6 L723.3 174.3 L725.6 175.1 L728.0 175.9 L730.4 176.6 L732.7 177.4 L735.1 178.2 L737.5 179.0 L739.8 179.8 L742.2 180.6 L744.5 181.4 L746.9 182.2 L749.2 183.0 L751.6 183.8 L753.9 184.7 L756.3 185.5 L758.6 186.3 L761.0 187.2 L763.3 188.0 L765.6 188.9 L767.9 189.7 L770.3 190.6 L772.6 191.4 L774.9 192.3 L777.2 193.2 L779.6 194.1 L781.9 194.9 L784.2 195.8 L786.5 196.7 L788.8 197.6 L791.1 198.5 L793.4 199.4 L795.7 200.3 L798.0 201.2 L800.3 202.2 L802.6 203.1 L804.9 204.0 L807.2 204.9 L809.5 205.9 L811.8 206.8 L814.1 207.8 L816.4 208.7 L818.7 209.6 L821.0 210.6 L823.3 211.5 L825.6 212.5 L827.9 213.4 L830.1 214.4 L832.4 215.4 L834.7 216.3 L837.0 217.3 L839.3 218.2 L841.6 219.2 L843.9 220.2 L846.2 221.1 L848.6 222.1 L850.9 223.1 L853.2 224.1 L855.5 225.0 L857.8 226.0 L860.1 227.0 L862.4 227.9 L864.8 228.9 L867.1 229.9 L869.4 230.9 L871.7 231.8 L874.1 232.8 L876.4 233.8 L878.7 234.7 L881.1 235.7 L883.4 236.7 L885.8 237.6 L888.2 238.6 L890.5 239.6 L892.9 240.5 L895.2 241.5 L897.6 242.5 L900.0 243.4 L902.4 244.4 L904.8 245.3 L907.1 246.3 L909.5 247.3 L911.9 248.2 L914.3 249.2 L916.7 250.2 L919.1 251.1 L921.4 252.1 L923.8 253.1 L926.2 254.1 L928.6 255.1 L930.9 256.1 L933.3 257.1 L935.6 258.1 L938.0 259.2 L940.3 260.2 L942.6 261.3 L945.0 262.3 L947.3 263.4 L949.6 264.5 L951.9 265.6 L954.1 266.7 L956.4 267.9 L958.7 269.0 L960.9 270.2 L963.1 271.3 L965.3 272.5 L967.5 273.7 L969.7 275.0 L971.9 276.2 L974.0 277.5 L976.1 278.8 L978.2 280.1 L980.3 281.4 L982.4 282.7 L984.4 284.1 L986.5 285.5 L988.5 286.9 L990.4 288.3 L992.4 289.8 L994.3 291.3 L996.2 292.8 L998.1 294.4 L1000.0 295.9 L1001.8 297.5 L1003.6 299.1 L1005.4 300.8 L1007.2 302.4 L1008.9 304.1 L1010.6 305.8 L1012.3 307.6 L1014.0 309.3 L1015.6 311.1 L1017.2 312.9 L1018.8 314.8 L1020.4 316.6 L1022.0 318.5 L1023.5 320.4 L1025.0 322.3 L1026.5 324.2 L1028.0 326.1 L1029.4 328.1 L1030.9 330.1 L1032.3 332.1 L1033.7 334.1 L1035.1 336.2 L1036.4 338.2 L1037.8 340.3 L1039.1 342.4 L1040.4 344.5 L1041.7 346.6 L1042.9 348.7 L1044.2 350.9 L1045.4 353.0 L1046.6 355.2 L1047.8 357.4 L1049.0 359.6 L1050.2 361.8 L1051.3 364.0 L1052.5 366.3 L1053.6 368.5 L1054.7 370.8 L1055.8 373.1 L1056.9 375.4 L1057.9 377.7 L1059.0 380.0 L1060.0 382.3 L1061.1 384.6 L1062.1 386.9 L1063.1 389.3 L1064.0 391.6 L1065.0 394.0 L1066.0 396.3 L1066.9 398.7 L1067.9 401.1 L1068.8 403.4 L1069.7 405.8 L1070.6 408.2 L1071.5 410.6 L1072.4 413.0 L1073.3 415.4 L1074.1 417.8 L1075.0 420.2 L1075.9 422.6 L1076.7 425.0 L1077.5 427.4 L1078.3 429.9 L1079.2 432.3 L1080.0 434.7 L1080.8 437.1 L1081.6 439.5 L1082.3 442.0 L1083.1 444.4 L1083.9 446.8 L1084.7 449.2 L1085.4 451.6 L1086.2 454.0 L1086.9 456.4 L1087.7 458.9 L1088.4 461.3 L1089.2 463.7 L1089.9 466.1 L1090.6 468.5 L1091.3 470.9 L1092.1 473.3 L1092.8 475.7 L1093.5 478.1 L1094.2 480.6 L1094.9 483.0 L1095.6 485.4 L1096.3 487.8 L1097.0 490.2 L1097.7 492.6 L1098.4 495.0 L1099.1 497.4 L1099.8 499.8 L1100.5 502.2 L1101.2 504.6 L1101.9 506.9 L1102.6 509.3 L1103.3 511.7 L1104.0 514.1 L1104.7 516.5 L1105.4 518.9 L1106.1 521.3 L1106.8 523.7 L1107.5 526.0 L1108.3 528.4 L1109.0 530.8 L1109.7 533.2 L1110.4 535.5 L1111.1 537.9 L1111.9 540.3 L1112.6 542.6 L1113.3 545.0 L1114.1 547.4 L1114.8 549.7 L1115.5 552.1 L1116.3 554.4 L1117.1 556.8 L1117.8 559.1 L1118.6 561.5 L1119.4 563.8 L1120.2 566.2 L1121.0 568.5 L1121.8 570.9 L1122.6 573.2 L1123.4 575.5 L1124.2 577.9 L1125.0 580.2 L1125.9 582.5 L1126.7 584.9 L1127.6 587.2 L1128.4 589.5 L1129.3 591.8 L1130.2 594.1 L1131.1 596.4 L1132.0 598.7 L1132.9 601.0 L1133.8 603.3 L1134.7 605.6 L1135.7 607.9 L1136.6 610.2 L1137.6 612.5 L1138.6 614.8 L1139.6 617.1 L1140.6 619.4 L1141.6 621.6 L1142.6 623.9 L1143.7 626.2 L1144.7 628.4 L1145.8 630.7 L1146.8 633.0 L1147.9 635.2 L1149.0 637.5 L1150.1 639.7 L1151.2 642.0 L1152.3 644.2 L1153.4 646.4 L1154.6 648.7 L1155.7 650.9 L1156.9 653.1 L1158.0 655.4 L1159.2 657.6 L1160.4 659.8 L1161.6 662.0 L1162.8 664.2 L1164.0 666.4 L1165.2 668.6 L1166.4 670.8 L1167.7 673.0 L1168.9 675.2 L1170.1 677.4 L1171.4 679.6 L1172.7 681.8 L1173.9 683.9 L1175.2 686.1 L1176.5 688.3 L1177.8 690.4 L1179.1 692.6 L1180.4 694.8 L1181.7 696.9 L1183.1 699.1 L1184.4 701.2 L1185.7 703.3 L1187.1 705.5 L1188.4 707.6 L1189.8 709.7 L1191.2 711.9 L1192.5 714.0 L1193.9 716.1 L1195.3 718.2 L1196.7 720.3 L1198.1 722.4 L1199.5 724.5 L1200.9 726.6 L1202.3 728.7 L1203.7 730.8 L1205.1 732.9 L1206.6 734.9 L1208.0 737.0 L1209.4 739.1 L1210.9 741.2 L1212.3 743.2 L1213.8 745.3 L1215.2 747.3 L1216.7 749.4 L1218.1 751.4 L1219.6 753.4 L1221.1 755.5 L1222.6 757.5 L1224.0 759.5 L1225.5 761.6 L1227.0 763.6 L1228.5 765.6 L1230.0 767.6 L1231.5 769.6 L1233.0 771.6 L1234.5 773.6 L1236.1 775.6 L1237.6 777.5 L1239.1 779.5 L1240.6 781.5 L1242.2 783.5 L1243.7 785.4 L1245.3 787.4 L1246.8 789.3 L1248.4 791.3 L1249.9 793.2 L1251.5 795.1 L1253.1 797.1 L1254.7 799.0 L1256.3 800.9 L1257.8 802.8 L1259.4 804.7 L1261.0 806.7 L1262.7 808.6 L1264.3 810.4 L1265.9 812.3 L1267.5 814.2 L1269.2 816.1 L1270.8 818.0 L1272.4 819.8 L1274.1 821.7 L1275.8 823.6 L1277.4 825.4 L1279.1 827.2 L1280.8 829.1 L1282.4 830.9 L1284.1 832.7 L1285.8 834.6 L1287.5 836.4 L1289.3 838.2 L1291.0 840.0 L1292.7 841.8 L1294.4 843.6 L1296.2 845.4 L1297.9 847.1 L1299.7 848.9 L1301.4 850.7 L1303.2 852.5 L1305.0 854.2 L1306.7 856.0 L1308.5 857.7 L1310.3 859.4 L1312.1 861.2 L1313.9 862.9 L1315.7 864.6 L1317.6 866.3 L1319.4 868.0 L1321.2 869.7 L1323.1 871.4 L1324.9 873.1 L1326.8 874.8 L1328.6 876.5 L1330.5 878.1 L1332.4 879.8 L1334.2 881.5 L1336.1 883.1 L1338.0 884.7 L1339.9 886.4 L1341.8 888.0 L1343.7 889.6 L1345.6 891.3 L1347.6 892.9 L1349.5 894.5 L1351.4 896.1 L1353.4 897.7 L1355.3 899.2 L1357.3 900.8 L1359.2 902.4 L1361.2 903.9 L1363.1 905.5 L1365.1 907.1 L1367.1 908.6 L1369.1 910.1 L1371.1 911.7 L1373.0 913.2 L1375.0 914.7 L1377.0 916.2 L1379.0 917.8 L1381.0 919.3 L1383.0 920.8 L1384.9 922.4 L1386.9 923.9 L1388.8 925.5 L1390.8 927.0 L1392.7 928.6 L1394.6 930.2 L1396.5 931.8 L1398.4 933.4 L1400.3 935.0 L1402.1 936.6 L1404.0 938.3 L1405.8 940.0 L1407.6 941.7 L1409.3 943.4 L1411.1 945.1 L1412.8 946.9 L1414.5 948.7 L1416.1 950.5 L1417.8 952.4 L1419.4 954.3 L1420.9 956.1 L1422.5 958.1 L1424.0 960.0 L1425.5 962.0 L1427.0 964.0 L1428.4 966.0 L1429.9 968.0 L1431.3 970.0 L1432.7 972.1 L1434.0 974.2 L1435.4 976.3 L1436.7 978.4 L1438.0 980.6 L1439.3 982.7 L1440.6 984.9 L1441.8 987.1 L1443.1 989.2 L1444.3 991.5 L1445.5 993.7 L1446.7 995.9 L1447.9 998.1 L1449.0 1000.4 L1450.2 1002.7 L1451.3 1004.9 L1452.5 1007.2 L1453.6 1009.5 L1454.7 1011.8 L1455.8 1014.1 L1456.9 1016.4 L1458.0 1018.7 L1459.1 1021.0 L1460.2 1023.3 L1461.2 1025.6 L1462.3 1027.9 L1463.4 1030.3 L1464.4 1032.6 L1465.5 1034.9 L1466.5 1037.2 L1467.6 1039.6 L1468.6 1041.9 L1469.7 1044.2 L1470.7 1046.5 L1471.8 1048.8 L1472.8 1051.1 L1473.9 1053.4 L1474.9 1055.7 L1476.0 1058.0 L1477.0 1060.3 L1478.1 1062.6 L1479.2 1064.9 L1480.2 1067.2 L1481.3 1069.4 L1482.4 1071.7 L1483.5 1074.0 L1484.6 1076.3 L1485.7 1078.6 L1486.8 1080.8 L1487.9 1083.1 L1489.0 1085.4 L1490.1 1087.7 L1491.3 1089.9 L1492.4 1092.2 L1493.6 1094.5 L1494.8 1096.7 L1496.0 1099.0 L1497.2 1101.2 L1498.4 1103.5 L1499.6 1105.7 L1500.9 1107.9 L1502.2 1110.0 L1503.6 1112.2 L1504.9 1114.3 L1506.3 1116.4 L1507.7 1118.4 L1509.2 1120.5 L1510.7 1122.4 L1512.2 1124.4 L1513.8 1126.3 L1515.4 1128.1 L1517.0 1129.9 L1518.8 1131.7 L1520.5 1133.4 L1522.3 1135.0 L1524.2 1136.6 L1526.1 1138.2 L1528.0 1139.6 L1530.0 1141.1 L1532.0 1142.5 L1534.1 1143.8 L1536.2 1145.1 L1538.3 1146.3 L1540.5 1147.5 L1542.6 1148.7 L1544.9 1149.9 L1547.1 1151.0 L1549.3 1152.0 L1551.6 1153.1 L1553.9 1154.1 L1556.2 1155.1 L1558.5 1156.1 L1560.8 1157.0 L1563.1 1158.0 L1565.4 1158.9 L1567.7 1159.8 L1570.0 1160.7 L1572.3 1161.5 L1574.7 1162.4 L1577.0 1163.2 L1579.4 1164.0 L1581.7 1164.8 L1584.1 1165.6 L1586.5 1166.3 L1588.8 1167.1 L1591.2 1167.8 L1593.6 1168.5 L1596.0 1169.2 L1598.4 1169.9 L1600.7 1170.5 L1603.1 1171.2 L1605.6 1171.8 L1608.0 1172.4 L1610.4 1173.0 L1612.8 1173.6 L1615.2 1174.2 L1617.6 1174.7 L1620.1 1175.3 L1622.5 1175.8 L1624.9 1176.3 L1627.4 1176.8 L1629.8 1177.3 L1632.3 1177.8 L1634.7 1178.2 L1637.2 1178.7 L1639.7 1179.1 L1642.1 1179.6 L1644.6 1180.0 L1647.1 1180.4 L1649.5 1180.8 L1652.0 1181.2 L1654.5 1181.6 L1657.0 1182.0 L1659.4 1182.3 L1661.9 1182.7 L1664.4 1183.0 L1666.9 1183.4 L1669.4 1183.7 L1671.9 1184.0 L1674.4 1184.4 L1676.9 1184.7 L1679.4 1185.0 L1681.9 1185.3 L1684.4 1185.6 L1686.9 1185.8 L1689.4 1186.1 L1691.9 1186.4 L1694.4 1186.7 L1697.0 1186.9 L1699.5 1187.2 L1702.0 1187.4 L1704.5 1187.7 L1707.0 1187.9 L1709.5 1188.2 L1712.0 1188.4 L1714.6 1188.6 L1717.1 1188.9 L1719.6 1189.1 L1722.1 1189.3 L1724.6 1189.6 L1727.2 1189.8 L1729.7 1190.0 L1732.2 1190.2 L1734.7 1190.5 L1737.2 1190.7 L1739.7 1190.9 L1742.3 1191.1 L1744.8 1191.3 L1747.3 1191.6 L1749.8 1191.8 L1752.3 1192.0 L1754.8 1192.2 L1757.4 1192.4 L1759.9 1192.7 L1762.4 1192.9 L1764.9 1193.1 L1767.4 1193.4 L1769.9 1193.6 L1772.4 1193.8 L1774.9 1194.1 L1777.4 1194.3 L1779.9 1194.6 L1782.4 1194.8 L1784.9 1195.1 L1787.4 1195.4 L1789.9 1195.6 L1792.4 1195.9 L1794.9 1196.2 L1797.4 1196.4 L1799.8 1196.7 L1802.3 1197.0 L1804.8 1197.3 L1807.3 1197.6 L1809.8 1197.8 L1812.3 1198.1 L1814.7 1198.4 L1817.2 1198.7 L1819.7 1199.0 L1822.2 1199.3 L1824.6 1199.6 L1827.1 1199.9 L1829.6 1200.2 L1832.1 1200.5 L1834.5 1200.8 L1837.0 1201.1 L1839.5 1201.4 L1842.0 1201.7 L1844.4 1202.0 L1846.9 1202.3 L1849.4 1202.6 L1851.8 1203.0 L1854.3 1203.3 L1856.8 1203.6 L1859.2 1203.9 L1861.7 1204.2 L1864.2 1204.5 L1866.6 1204.8 L1869.1 1205.1 L1871.6 1205.4 L1874.0 1205.7 L1876.5 1206.1 L1879.0 1206.4 L1881.4 1206.7 L1883.9 1207.0 L1886.4 1207.3 L1888.8 1207.6 L1891.3 1207.9 L1893.8 1208.2 L1896.2 1208.5 L1898.7 1208.8 L1901.2 1209.1 L1903.6 1209.4 L1906.1 1209.6 L1908.6 1209.9 L1911.0 1210.2 L1913.5 1210.5 L1916.0 1210.8 L1918.5 1211.1 L1920.9 1211.3 L1923.4 1211.6 L1925.9 1211.9 L1928.4 1212.2 L1930.8 1212.4 L1933.3 1212.7 L1935.8 1212.9 L1938.3 1213.2 L1940.8 1213.4 L1943.3 1213.7 L1945.7 1213.9 L1948.2 1214.2 L1950.7 1214.4 L1953.2 1214.6 L1955.7 1214.9 L1958.2 1215.1 L1960.7 1215.3 L1963.2 1215.5 L1965.7 1215.7 L1968.2 1215.9 L1970.7 1216.1 L1973.2 1216.3 L1975.7 1216.5 L1978.2 1216.7 L1980.7 1216.9 L1983.2 1217.0 L1985.7 1217.2 L1988.2 1217.4 L1990.7 1217.5 L1993.3 1217.7 L1995.8 1217.8 L1998.3 1217.9 L2000.8 1218.1 L2003.4 1218.2 L2005.9 1218.3 L2008.4 1218.4 L2011.0 1218.5 L2013.5 1218.6 L2016.0 1218.7 L2018.6 1218.8 L2021.1 1218.9" stroke="#1a1a96"/>
<path d="M305.0 69.5 L307.6 69.5 L310.1 69.5 L312.7 69.5 L315.2 69.5 L317.8 69.5 L320.4 69.5 L322.9 69.5 L325.4 69.5 L328.0 69.5 L330.5 69.5 L333.1 69.5 L335.6 69.5 L338.1 69.5 L340.7 69.5 L343.2 69.5 L345.7 69.5 L348.2 69.5 L350.7 69.5 L353.3 69.5 L355.8 69.5 L358.3 69.5 L360.8 69.5 L363.3 69.5 L365.8 69.5 L368.3 69.5 L370.8 69.5 L373.3 69.5 L375.8 69.5 L378.3 69.5 L380.8 69.5 L383.3 69.5 L385.8 69.5 L388.3 69.5 L390.7 69.5 L393.2 69.5 L395.7 69.5 L398.2 69.5 L400.7 69.5 L403.2 69.5 L405.6 69.5 L408.1 69.5 L410.6 69.5 L413.1 69.5 L415.6 69.5 L418.0 69.5 L420.5 69.5 L423.0 69.5 L425.4 69.5 L427.9 69.5 L430.4 69.5 L432.9 69.5 L435.3 69.5 L437.8 69.5 L440.3 69.5 L442.7 69.8 L445.2 70.1 L447.7 70.5 L450.2 70.9 L452.6 71.3 L455.1 71.7 L457.6 72.1 L460.0 72.5 L462.5 72.9 L465.0 73.3 L467.5 73.7 L469.9 74.0 L472.4 74.4 L474.9 74.8 L477.3 75.2 L479.8 75.6 L482.3 75.9 L484.8 76.3 L487.2 76.7 L489.7 77.0 L492.2 77.4 L494.7 77.7 L497.2 78.0 L499.6 78.4 L502.1 78.7 L504.6 79.1 L507.1 79.4 L509.6 79.7 L512.0 80.0 L514.5 80.4 L517.0 80.7 L519.5 81.0 L522.0 81.3 L524.5 81.6 L526.9 81.9 L529.4 82.3 L531.9 82.6 L534.4 82.9 L536.9 83.2 L539.3 83.5 L541.8 83.8 L544.3 84.2 L546.8 84.5 L549.3 84.8 L551.8 85.1 L554.2 85.4 L556.7 85.8 L559.2 86.1 L561.7 86.4 L564.2 86.7 L566.6 87.1 L569.1 87.4 L571.6 87.8 L574.1 88.1 L576.5 88.5 L579.0 88.8 L581.5 89.2 L584.0 89.5 L586.4 89.9 L588.9 90.3 L591.4 90.6 L593.9 91.0 L596.3 91.4 L598.8 91.8 L601.3 92.2 L603.7 92.6 L606.2 93.0 L608.7 93.4 L611.1 93.8 L613.6 94.3 L616.1 94.7 L618.5 95.2 L621.0 95.6 L623.4 96.1 L625.9 96.6 L628.4 97.0 L630.8 97.5 L633.3 98.0 L635.7 98.5 L638.2 99.0 L640.6 99.6 L643.1 100.1 L645.5 100.6 L647.9 101.2 L650.4 101.7 L652.8 102.3 L655.3 102.9 L657.7 103.4 L660.1 104.0 L662.6 104.6 L665.0 105.2 L667.5 105.8 L669.9 106.4 L672.3 107.0 L674.7 107.6 L677.2 108.3 L679.6 108.9 L682.0 109.5 L684.5 110.2 L686.9 110.8 L689.3 111.5 L691.7 112.1 L694.1 112.8 L696.6 113.5 L699.0 114.1 L701.4 114.8 L703.8 115.5 L706.2 116.2 L708.6 116.9 L711.0 117.5 L713.5 118.2 L715.9 118.9 L718.3 119.6 L720.7 120.3 L723.1 121.1 L725.5 121.8 L727.9 122.5 L730.3 123.2 L732.7 123.9 L735.1 124.6 L737.5 125.4 L739.9 126.1 L742.3 126.8 L744.7 127.5 L747.1 128.3 L749.5 129.0 L751.9 129.7 L754.2 130.5 L756.6 131.2 L759.0 131.9 L761.4 132.7 L763.8 133.4 L766.2 134.1 L768.6 134.9 L770.9 135.6 L773.3 136.4 L775.7 137.1 L778.1 137.8 L780.5 138.6 L782.8 139.3 L785.2 140.0 L787.6 140.8 L790.0 141.5 L792.3 142.2 L794.7 143.0 L797.1 143.7 L799.5 144.4 L801.8 145.2 L804.2 145.9 L806.6 146.6 L808.9 147.4 L811.3 148.1 L813.7 148.8 L816.1 149.5 L818.4 150.3 L820.8 151.0 L823.2 151.7 L825.5 152.4 L827.9 153.1 L830.3 153.9 L832.6 154.6 L835.0 155.3 L837.4 156.0 L839.8 156.7 L842.1 157.5 L844.5 158.2 L846.9 158.9 L849.3 159.6 L851.6 160.3 L854.0 161.0 L856.4 161.8 L858.8 162.5 L861.2 163.2 L863.5 163.9 L865.9 164.6 L868.3 165.3 L870.7 166.0 L873.1 166.7 L875.5 167.4 L877.9 168.2 L880.3 168.9 L882.7 169.6 L885.0 170.3 L887.4 171.0 L889.9 171.7 L892.3 172.4 L894.7 173.1 L897.1 173.8 L899.5 174.5 L901.9 175.2 L904.3 175.9 L906.7 176.6 L909.2 177.3 L911.6 178.0 L914.0 178.7 L916.4 179.4 L918.9 180.1 L921.3 180.8 L923.8 181.5 L926.2 182.2 L928.6 182.9 L931.1 183.7 L933.5 184.4 L936.0 185.1 L938.5 185.8 L940.9 186.5 L943.4 187.2 L945.9 187.9 L948.3 188.6 L950.8 189.3 L953.3 190.0 L955.8 190.7 L958.2 191.4 L960.7 192.2 L963.2 192.9 L965.6 193.6 L968.1 194.4 L970.5 195.2 L972.9 196.0 L975.4 196.8 L977.8 197.6 L980.2 198.4 L982.6 199.3 L984.9 200.1 L987.3 201.0 L989.7 201.9 L992.0 202.9 L994.3 203.8 L996.6 204.8 L998.9 205.8 L1001.1 206.8 L1003.4 207.9 L1005.6 209.0 L1007.8 210.1 L1010.0 211.2 L1012.1 212.4 L1014.2 213.6 L1016.3 214.9 L1018.4 216.2 L1020.4 217.5 L1022.4 218.8 L1024.4 220.2 L1026.3 221.6 L1028.3 223.1 L1030.1 224.6 L1032.0 226.1 L1033.8 227.7 L1035.6 229.3 L1037.4 231.0 L1039.1 232.6 L1040.8 234.3 L1042.5 236.1 L1044.2 237.8 L1045.9 239.6 L1047.5 241.5 L1049.1 243.3 L1050.6 245.2 L1052.2 247.1 L1053.7 249.0 L1055.2 251.0 L1056.7 253.0 L1058.2 255.0 L1059.6 257.0 L1061.1 259.0 L1062.5 261.1 L1063.9 263.2 L1065.2 265.3 L1066.6 267.4 L1067.9 269.6 L1069.3 271.7 L1070.6 273.9 L1071.9 276.1 L1073.2 278.3 L1074.5 280.5 L1075.7 282.7 L1077.0 285.0 L1078.2 287.2 L1079.4 289.5 L1080.7 291.7 L1081.9 294.0 L1083.1 296.3 L1084.3 298.6 L1085.4 300.9 L1086.6 303.2 L1087.8 305.5 L1089.0 307.8 L1090.1 310.1 L1091.3 312.4 L1092.4 314.7 L1093.6 317.1 L1094.7 319.4 L1095.9 321.7 L1097.0 324.0 L1098.1 326.3 L1099.3 328.6 L1100.4 330.9 L1101.6 333.2 L1102.7 335.5 L1103.8 337.8 L1105.0 340.0 L1106.1 342.3 L1107.3 344.6 L1108.4 346.8 L1109.6 349.0 L1110.8 351.3 L1111.9 353.5 L1113.1 355.7 L1114.3 357.8 L1115.5 360.0 L1116.7 362.2 L1117.9 364.3 L1119.1 366.5 L1120.3 368.6 L1121.5 370.7 L1122.8 372.9 L1124.0 375.0 L1125.2 377.1 L1126.5 379.1 L1127.8 381.2 L1129.0 383.3 L1130.3 385.4 L1131.6 387.4 L1132.9 389.5 L1134.2 391.5 L1135.5 393.5 L1136.9 395.5 L1138.2 397.5 L1139.6 399.6 L1140.9 401.6 L1142.3 403.5 L1143.7 405.5 L1145.1 407.5 L1146.5 409.5 L1148.0 411.5 L1149.4 413.4 L1150.8 415.4 L1152.3 417.3 L1153.8 419.3 L1155.3 421.2 L1156.8 423.2 L1158.3 425.1 L1159.9 427.0 L1161.4 428.9 L1163.0 430.9 L1164.6 432.8 L1166.1 434.7 L1167.8 436.6 L1169.4 438.5 L1171.0 440.4 L1172.6 442.3 L1174.3 444.2 L1175.9 446.1 L1177.6 448.0 L1179.2 449.9 L1180.9 451.8 L1182.6 453.7 L1184.3 455.6 L1186.0 457.5 L1187.7 459.3 L1189.4 461.2 L1191.1 463.1 L1192.8 465.0 L1194.5 466.9 L1196.2 468.8 L1197.9 470.7 L1199.6 472.5 L1201.3 474.4 L1203.0 476.3 L1204.7 478.2 L1206.4 480.1 L1208.1 482.0 L1209.8 483.9 L1211.5 485.7 L1213.1 487.6 L1214.8 489.5 L1216.5 491.4 L1218.2 493.3 L1219.9 495.2 L1221.6 497.0 L1223.3 498.9 L1225.0 500.8 L1226.7 502.7 L1228.4 504.5 L1230.1 506.4 L1231.7 508.3 L1233.4 510.1 L1235.1 512.0 L1236.8 513.9 L1238.6 515.7 L1240.3 517.5 L1242.0 519.4 L1243.7 521.2 L1245.4 523.1 L1247.1 524.9 L1248.8 526.7 L1250.6 528.5 L1252.3 530.3 L1254.1 532.1 L1255.8 533.9 L1257.5 535.7 L1259.3 537.5 L1261.1 539.2 L1262.8 541.0 L1264.6 542.8 L1266.4 544.5 L1268.2 546.2 L1270.0 548.0 L1271.8 549.7 L1273.6 551.4 L1275.4 553.1 L1277.2 554.8 L1279.0 556.5 L1280.9 558.2 L1282.7 559.8 L1284.6 561.5 L1286.4 563.1 L1288.3 564.7 L1290.2 566.3 L1292.1 567.9 L1294.0 569.5 L1295.9 571.1 L1297.8 572.7 L1299.8 574.2 L1301.7 575.8 L1303.7 577.3 L1305.6 578.8 L1307.6 580.3 L1309.6 581.8 L1311.6 583.3 L1313.6 584.7 L1315.6 586.2 L1317.7 587.6 L1319.7 589.0 L1321.8 590.4 L1323.9 591.8 L1326.0 593.1 L1328.1 594.5 L1330.2 595.8 L1332.4 597.1 L1334.5 598.4 L1336.7 599.7 L1338.9 600.9 L1341.1 602.2 L1343.2 603.4 L1345.5 604.7 L1347.7 605.9 L1349.9 607.1 L1352.1 608.3 L1354.3 609.5 L1356.6 610.7 L1358.8 611.9 L1361.1 613.1 L1363.3 614.3 L1365.5 615.5 L1367.8 616.7 L1370.0 617.9 L1372.2 619.0 L1374.5 620.3 L1376.7 621.5 L1378.9 622.7 L1381.1 623.9 L1383.3 625.1 L1385.5 626.4 L1387.6 627.6 L1389.8 628.9 L1392.0 630.2 L1394.1 631.5 L1396.2 632.8 L1398.3 634.2 L1400.4 635.5 L1402.5 636.9 L1404.5 638.3 L1406.5 639.7 L1408.5 641.2 L1410.5 642.6 L1412.5 644.1 L1414.4 645.7 L1416.3 647.2 L1418.2 648.8 L1420.0 650.4 L1421.9 652.1 L1423.7 653.7 L1425.4 655.4 L1427.2 657.2 L1428.9 658.9 L1430.6 660.7 L1432.3 662.5 L1433.9 664.4 L1435.6 666.2 L1437.2 668.1 L1438.8 670.0 L1440.4 671.9 L1441.9 673.9 L1443.5 675.8 L1445.0 677.8 L1446.6 679.8 L1448.1 681.8 L1449.6 683.8 L1451.1 685.8 L1452.5 687.9 L1454.0 689.9 L1455.5 692.0 L1456.9 694.1 L1458.4 696.2 L1459.8 698.2 L1461.3 700.3 L1462.7 702.4 L1464.1 704.5 L1465.6 706.6 L1467.0 708.7 L1468.4 710.9 L1469.9 713.0 L1471.3 715.1 L1472.7 717.2 L1474.2 719.3 L1475.6 721.4 L1477.1 723.5 L1478.6 725.5 L1480.0 727.6 L1481.5 729.7 L1483.0 731.8 L1484.5 733.8 L1486.0 735.8 L1487.6 737.9 L1489.1 739.9 L1490.7 741.9 L1492.2 743.9 L1493.8 745.8 L1495.4 747.8 L1497.0 749.7 L1498.7 751.6 L1500.3 753.5 L1502.0 755.3 L1503.6 757.1 L1505.3 759.0 L1507.1 760.7 L1508.8 762.5 L1510.6 764.2 L1512.4 765.9 L1514.2 767.5 L1516.0 769.1 L1517.8 770.7 L1519.7 772.3 L1521.6 773.8 L1523.5 775.3 L1525.5 776.7 L1527.5 778.1 L1529.5 779.4 L1531.5 780.7 L1533.6 782.0 L1535.6 783.2 L1537.8 784.4 L1539.9 785.5 L1542.1 786.6 L1544.3 787.6 L1546.5 788.6 L1548.8 789.5 L1551.1 790.4 L1553.4 791.2 L1555.7 792.0 L1558.1 792.8 L1560.4 793.5 L1562.8 794.2 L1565.2 794.9 L1567.7 795.5 L1570.1 796.1 L1572.6 796.7 L1575.0 797.2 L1577.5 797.7 L1580.0 798.2 L1582.5 798.7 L1585.0 799.1 L1587.5 799.6 L1590.0 800.0 L1592.5 800.4 L1595.1 800.8 L1597.6 801.1 L1600.1 801.5 L1602.6 801.8 L1605.1 802.2 L1607.6 802.5 L1610.2 802.8 L1612.7 803.1 L1615.2 803.4 L1617.7 803.7 L1620.2 804.0 L1622.7 804.3 L1625.2 804.5 L1627.7 804.8 L1630.2 805.1 L1632.7 805.3 L1635.3 805.6 L1637.8 805.8 L1640.3 806.1 L1642.8 806.3 L1645.3 806.5 L1647.8 806.8 L1650.3 807.0 L1652.8 807.2 L1655.3 807.5 L1657.8 807.7 L1660.3 807.9 L1662.8 808.2 L1665.3 808.4 L1667.8 808.6 L1670.3 808.8 L1672.8 809.1 L1675.3 809.3 L1677.8 809.5 L1680.3 809.7 L1682.8 809.9 L1685.3 810.2 L1687.8 810.4 L1690.3 810.6 L1692.8 810.8 L1695.3 811.0 L1697.8 811.2 L1700.3 811.4 L1702.8 811.6 L1705.3 811.8 L1707.8 812.0 L1710.3 812.2 L1712.8 812.4 L1715.3 812.6 L1717.8 812.8 L1720.3 813.0 L1722.8 813.2 L1725.3 813.4 L1727.8 813.6 L1730.3 813.8 L1732.8 814.0 L1735.3 814.2 L1737.8 814.4 L1740.2 814.6 L1742.7 814.7 L1745.2 814.9 L1747.7 815.1 L1750.2 815.3 L1752.7 815.5 L1755.2 815.6 L1757.7 815.8 L1760.2 816.0 L1762.7 816.2 L1765.2 816.3 L1767.7 816.5 L1770.2 816.7 L1772.7 816.8 L1775.1 817.0 L1777.6 817.2 L1780.1 817.3 L1782.6 817.5 L1785.1 817.6 L1787.6 817.8 L1790.1 817.9 L1792.6 818.1 L1795.1 818.2 L1797.6 818.4 L1800.1 818.5 L1802.6 818.7 L1805.1 818.8 L1807.5 819.0 L1810.0 819.1 L1812.5 819.3 L1815.0 819.4 L1817.5 819.6 L1820.0 819.7 L1822.5 819.8 L1825.0 820.0 L1827.5 820.1 L1830.0 820.2 L1832.5 820.4 L1835.0 820.5 L1837.5 820.6 L1839.9 820.7 L1842.4 820.9 L1844.9 821.0 L1847.4 821.1 L1849.9 821.2 L1852.4 821.3 L1854.9 821.5 L1857.4 821.6 L1859.9 821.7 L1862.4 821.8 L1864.9 821.9 L1867.4 822.0 L1869.9 822.1 L1872.4 822.2 L1874.9 822.3 L1877.4 822.4 L1879.9 822.6 L1882.3 822.7 L1884.8 822.8 L1887.3 822.8 L1889.8 822.9 L1892.3 823.0 L1894.8 823.1 L1897.3 823.2 L1899.8 823.3 L1902.3 823.4 L1904.8 823.5 L1907.3 823.6 L1909.8 823.7 L1912.3 823.7 L1914.8 823.8 L1917.3 823.9 L1919.8 824.0 L1922.3 824.1 L1924.8 824.1 L1927.3 824.2 L1929.8 824.3 L1932.3 824.3 L1934.8 824.4 L1937.3 824.5 L1939.8 824.5 L1942.3 824.6 L1944.8 824.7 L1947.3 824.7 L1949.8 824.8 L1952.3 824.9 L1954.9 824.9 L1957.4 825.0 L1959.9 825.0 L1962.4 825.1 L1964.9 825.1 L1967.4 825.2 L1969.9 825.2 L1972.4 825.3 L1974.9 825.3 L1977.4 825.4 L1979.9 825.4 L1982.4 825.4 L1984.9 825.5 L1987.5 825.5 L1990.0 825.6 L1992.5 825.6 L1995.0 825.6 L1997.5 825.6 L2000.0 825.7 L2002.5 825.7 L2005.1 825.7 L2007.6 825.8 L2010.1 825.8 L2012.6 825.8 L2015.1 825.8 L2017.6 825.8 L2020.2 825.9 L2022.7 825.9" stroke="#cc44bc"/>

</g>
<g stroke="#000" stroke-width="5" fill="none" stroke-linecap="butt">
<rect x="238.5" y="69.5" width="1796.7" height="1335.0"/>
<line x1="211" y1="69.5" x2="238.5" y2="69.5"/>
<line x1="238.5" y1="1404.5" x2="238.5" y2="1432.5"/>
<line x1="388.2" y1="1404.5" x2="388.2" y2="1420.0"/>
<line x1="538.0" y1="1404.5" x2="538.0" y2="1432.5"/>
<line x1="687.7" y1="1404.5" x2="687.7" y2="1420.0"/>
<line x1="837.4" y1="1404.5" x2="837.4" y2="1432.5"/>
<line x1="987.1" y1="1404.5" x2="987.1" y2="1420.0"/>
<line x1="1136.8" y1="1404.5" x2="1136.8" y2="1432.5"/>
<line x1="1286.6" y1="1404.5" x2="1286.6" y2="1420.0"/>
<line x1="1436.3" y1="1404.5" x2="1436.3" y2="1432.5"/>
<line x1="1586.0" y1="1404.5" x2="1586.0" y2="1420.0"/>
<line x1="1735.8" y1="1404.5" x2="1735.8" y2="1432.5"/>
<line x1="1885.5" y1="1404.5" x2="1885.5" y2="1420.0"/>
<line x1="2035.2" y1="1404.5" x2="2035.2" y2="1432.5"/>
<line x1="211.0" y1="1404.5" x2="238.5" y2="1404.5"/>
<line x1="224.0" y1="1271.0" x2="238.5" y2="1271.0"/>
<line x1="211.0" y1="1137.5" x2="238.5" y2="1137.5"/>
<line x1="224.0" y1="1004.0" x2="238.5" y2="1004.0"/>
<line x1="211.0" y1="870.5" x2="238.5" y2="870.5"/>
<line x1="224.0" y1="737.0" x2="238.5" y2="737.0"/>
<line x1="211.0" y1="603.5" x2="238.5" y2="603.5"/>
<line x1="224.0" y1="470.0" x2="238.5" y2="470.0"/>
<line x1="211.0" y1="336.5" x2="238.5" y2="336.5"/>
<line x1="224.0" y1="203.0" x2="238.5" y2="203.0"/>
<line x1="211.0" y1="69.5" x2="238.5" y2="69.5"/>
</g>

<g><text x="238.5" y="1512.5" text-anchor="middle">0</text>
<text x="538.0" y="1512.5" text-anchor="middle">100</text>
<text x="837.4" y="1512.5" text-anchor="middle">200</text>
<text x="1136.8" y="1512.5" text-anchor="middle">300</text>
<text x="1436.3" y="1512.5" text-anchor="middle">400</text>
<text x="1735.8" y="1512.5" text-anchor="middle">500</text>
<text x="2035.2" y="1512.5" text-anchor="middle">600</text></g>
<g><text transform="translate(194 1427.5) scale(0.976 1)" text-anchor="end">0</text>
<text transform="translate(194 1160.5) scale(0.976 1)" text-anchor="end">20</text>
<text transform="translate(194 893.5) scale(0.976 1)" text-anchor="end">40</text>
<text transform="translate(194 626.5) scale(0.976 1)" text-anchor="end">60</text>
<text transform="translate(194 359.5) scale(0.976 1)" text-anchor="end">80</text>
<text transform="translate(194 92.5) scale(0.976 1)" text-anchor="end">100</text></g>
<g><line x1="325" y1="916.2" x2="489" y2="916.2" stroke="#000000" stroke-width="5.6"/>
<text transform="translate(507 941.0) scale(0.985 1)">COC</text>
<text transform="translate(678.5 941.0)" style="font-size:56px">0</text>
<line x1="325" y1="1015.8" x2="489" y2="1015.8" stroke="#cc2a2a" stroke-width="5.6"/>
<text transform="translate(507 1040.5) scale(0.985 1)">COC</text>
<text transform="translate(678.5 1040.5)" style="font-size:56px">20</text>
<line x1="325" y1="1115.4" x2="489" y2="1115.4" stroke="#1a1a96" stroke-width="5.6"/>
<text transform="translate(507 1140.0) scale(0.985 1)">COC</text>
<text transform="translate(678.5 1140.0)" style="font-size:56px">40</text>
<line x1="325" y1="1215.0" x2="489" y2="1215.0" stroke="#cc44bc" stroke-width="5.6"/>
<text transform="translate(507 1239.5) scale(0.985 1)">COC</text>
<text transform="translate(678.5 1239.5)" style="font-size:56px">60</text></g>
<text x="0" y="0" transform="translate(92 777) rotate(-90)" text-anchor="middle">Weight (%)</text>
<text x="838" y="1602">Temperature <tspan font-weight="normal" dx="-3">(°C)</tspan></text>
</svg>
</div>
</body></html>
